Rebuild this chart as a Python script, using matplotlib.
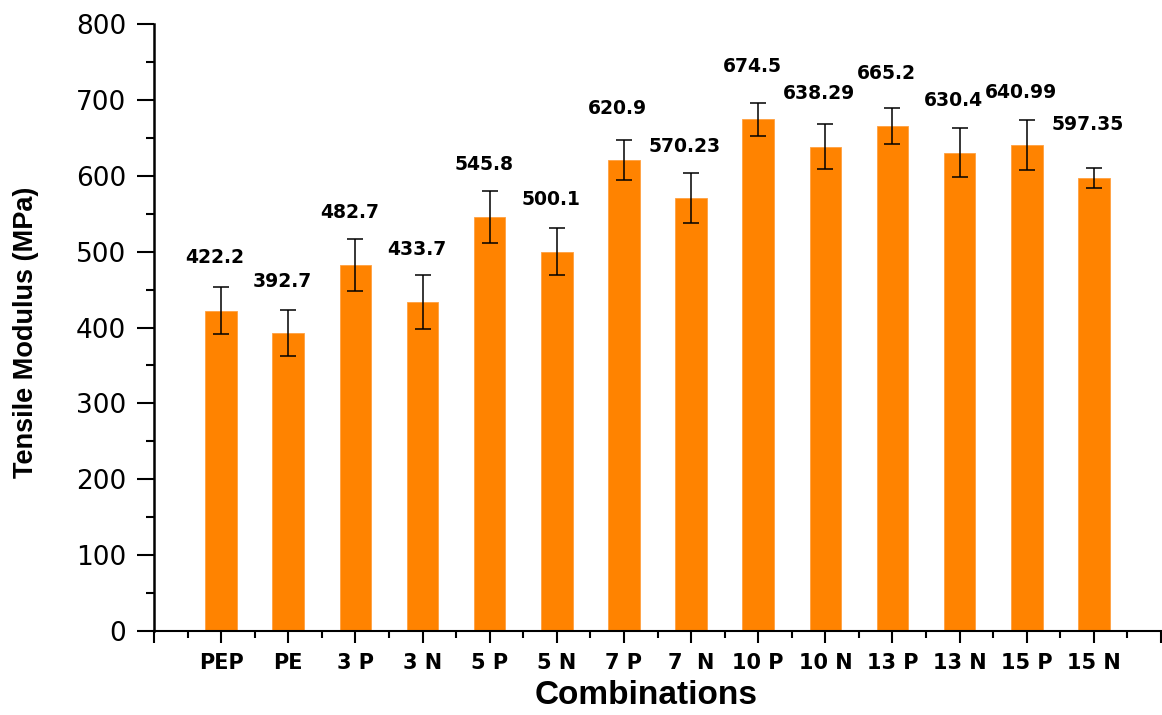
import numpy as np
import matplotlib
matplotlib.use("Agg")
import matplotlib.pyplot as plt
from matplotlib.ticker import MultipleLocator

# data
combos = ["PEP", "PE", "3 P", "3 N", "5 P", "5 N", "7 P", "7  N",
          "10 P", "10 N", "13 P", "13 N", "15 P", "15 N"]
modulus = [422.2, 392.7, 482.7, 433.7, 545.8, 500.1, 620.9, 570.23,
           674.5, 638.29, 665.2, 630.4, 640.99, 597.35]
errors = [31, 30, 34.5, 35.5, 34, 31, 26, 33, 22, 30, 24, 32, 33, 13]
value_labels = ["422.2", "392.7", "482.7", "433.7", "545.8", "500.1", "620.9", "570.23",
                "674.5", "638.29", "665.2", "630.4", "640.99", "597.35"]

# layout only: gap between error cap and value label (data units)
label_pad = [39, 38, 35, 33, 35, 37, 42, 35, 48, 40, 45, 37, 36, 57]

bar_color = "#FF8300"

fig = plt.figure(figsize=(11.62, 7.15), dpi=100)
ax = fig.add_axes([154 / 1162, 1 - 631 / 715, 1007 / 1162, 607 / 715])

x = np.arange(1, len(combos) + 1)
ax.bar(x, modulus, width=0.47, color=bar_color, edgecolor="#FFA040", linewidth=0.6, zorder=2)
ax.errorbar(x, modulus, yerr=errors, fmt="none", ecolor="black", elinewidth=1.1,
            capsize=6, capthick=1.1, zorder=3)

for xi, v, e, p, s in zip(x, modulus, errors, label_pad, value_labels):
    ax.text(xi - 0.09, v + e + p, s, ha="center", va="center",
            fontsize=13.5, fontweight="bold", family="DejaVu Sans")

ax.set_xlim(0, 15)
ax.set_ylim(0, 800)
ax.set_xticks(np.arange(0, 16))
ax.set_xticklabels([""] + combos + [""])
ax.xaxis.set_minor_locator(MultipleLocator(0.5))
ax.yaxis.set_major_locator(MultipleLocator(100))
ax.yaxis.set_minor_locator(MultipleLocator(50))

for side in ["top", "right"]:
    ax.spines[side].set_visible(False)
ax.spines["left"].set_linewidth(1.8)
ax.spines["bottom"].set_linewidth(1.5)

ax.tick_params(axis="y", which="major", direction="out", length=12, width=1.5, pad=8,
               labelsize=19)
ax.tick_params(axis="y", which="minor", direction="out", length=6, width=1.5)
ax.tick_params(axis="x", which="major", direction="out", length=8.5, width=1.5, pad=7,
               labelsize=15)
ax.tick_params(axis="x", which="minor", direction="out", length=5, width=1.5)
for lab in ax.get_xticklabels():
    lab.set_fontweight("bold")

ax.set_xlabel("Combinations", fontsize=24, fontweight="bold",
              family=["Liberation Sans", "DejaVu Sans"], va="center")
ax.xaxis.set_label_coords(0.489, -0.106)
ax.set_ylabel("Tensile Modulus (MPa)", fontsize=19.5, fontweight="bold",
              family=["Liberation Sans Narrow", "Liberation Sans", "DejaVu Sans"], va="center")
ax.yaxis.set_label_coords(-0.127, 0.4926)

fig.savefig("out.png", dpi=100)
